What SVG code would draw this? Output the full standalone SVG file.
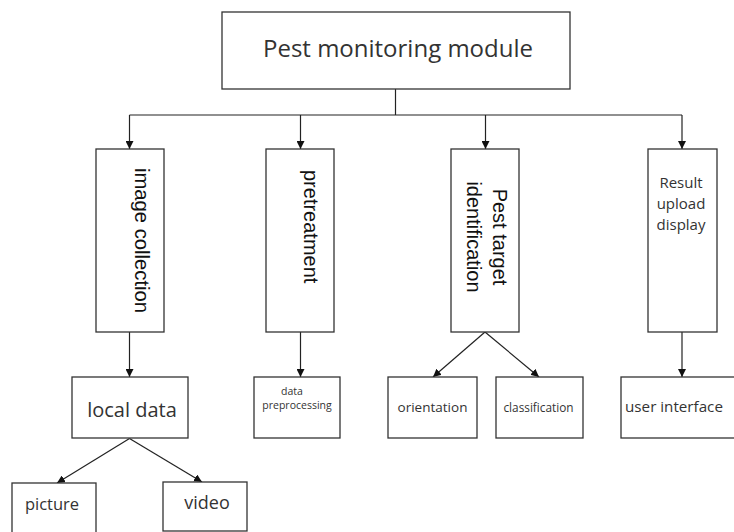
<svg xmlns="http://www.w3.org/2000/svg" width="734" height="532" viewBox="0 0 734 532">
<style>
.box{fill:#fff;stroke:#333;stroke-width:1.3}
.ln{fill:none;stroke:#222;stroke-width:1.2}
.seg{font-family:"Open Sans","Noto Sans",sans-serif;fill:#333}
.ari{font-family:"Liberation Sans",Arial,sans-serif;fill:#111;font-size:20px}
</style>
<defs>
<marker id="ah" viewBox="0 0 10 10" refX="10" refY="5" markerWidth="8" markerHeight="8" markerUnits="userSpaceOnUse" orient="auto">
<path d="M0,0 L10,5 L0,10 Z" fill="#111"/>
</marker>
</defs>
<rect width="734" height="532" fill="#fff"/>
<g id="connectors">
<path class="ln" d="M395.5,89 V115"/>
<path class="ln" d="M129.5,115 H682"/>
<path class="ln" d="M129.5,115 V149" marker-end="url(#ah)"/>
<path class="ln" d="M300.5,115 V149" marker-end="url(#ah)"/>
<path class="ln" d="M485.5,115 V149" marker-end="url(#ah)"/>
<path class="ln" d="M682,115 V149" marker-end="url(#ah)"/>
<path class="ln" d="M129.5,332 V377" marker-end="url(#ah)"/>
<path class="ln" d="M300.5,332 V377" marker-end="url(#ah)"/>
<path class="ln" d="M682,332 V377" marker-end="url(#ah)"/>
<path class="ln" d="M485,332 L433,377" marker-end="url(#ah)"/>
<path class="ln" d="M485,332 L539,377" marker-end="url(#ah)"/>
<path class="ln" d="M129.5,438.5 L57,483" marker-end="url(#ah)"/>
<path class="ln" d="M129.5,438.5 L202,482" marker-end="url(#ah)"/>
</g>
<g id="n-top">
<rect class="box" x="222" y="12" width="348" height="77"/>
<text class="seg" x="398" y="57" font-size="24" text-anchor="middle" fill="#222">Pest monitoring module</text>
</g>
<g id="n-image">
<rect class="box" x="96" y="149" width="68" height="183"/>
<text class="ari" transform="translate(135,168) rotate(90)" textLength="145" lengthAdjust="spacingAndGlyphs">image collection</text>
</g>
<g id="n-pre">
<rect class="box" x="266" y="149" width="68" height="183"/>
<text class="ari" transform="translate(304,170) rotate(90)">pretreatment</text>
</g>
<g id="n-pest">
<rect class="box" x="451" y="149" width="68" height="183"/>
<text class="ari" transform="translate(493,237) rotate(90)" text-anchor="middle">Pest target</text>
<text class="ari" transform="translate(467,237) rotate(90)" text-anchor="middle">identification</text>
</g>
<g id="n-result">
<rect class="box" x="648" y="149" width="69" height="183"/>
<text class="seg" x="681" y="188" font-size="15" text-anchor="middle" fill="#555">Result</text>
<text class="seg" x="681" y="209" font-size="15" text-anchor="middle" fill="#555">upload</text>
<text class="seg" x="681" y="230" font-size="15" text-anchor="middle" fill="#555">display</text>
</g>
<g id="n-local">
<rect class="box" x="72" y="377" width="116" height="61"/>
<text class="seg" x="132" y="417" font-size="20" text-anchor="middle" fill="#333">local data</text>
</g>
<g id="n-dataprep">
<rect class="box" x="254" y="377" width="86" height="61"/>
<text class="seg" x="292" y="395" font-size="10.5" text-anchor="middle">data</text>
<text class="seg" x="297" y="409" font-size="10.5" text-anchor="middle">preprocessing</text>
</g>
<g id="n-orient">
<rect class="box" x="388" y="377" width="89" height="61"/>
<text class="seg" x="432.5" y="412" font-size="13.5" text-anchor="middle" fill="#444">orientation</text>
</g>
<g id="n-class">
<rect class="box" x="496" y="377" width="87" height="61"/>
<text class="seg" x="538.5" y="412" font-size="11.8" text-anchor="middle" fill="#444">classification</text>
</g>
<g id="n-ui">
<rect class="box" x="621" y="377" width="120" height="61"/>
<text class="seg" x="674" y="412" font-size="15.2" text-anchor="middle" fill="#333">user interface</text>
</g>
<g id="n-picture">
<rect class="box" x="12" y="483" width="84" height="60"/>
<text class="seg" x="52" y="510" font-size="16.5" text-anchor="middle" fill="#444">picture</text>
</g>
<g id="n-video">
<rect class="box" x="163" y="482" width="84" height="49"/>
<text class="seg" x="207" y="509" font-size="18" text-anchor="middle" fill="#111">video</text>
</g>
</svg>
